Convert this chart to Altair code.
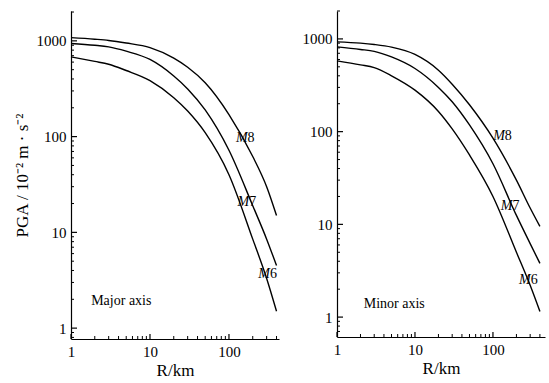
import altair as alt
import pandas as pd

# ---- data ----
R = [1, 2, 3, 5, 10, 20, 30, 50, 100, 200, 300, 400]
magnitudes = ["8", "7", "6"]

major_M8 = [1080, 1040, 1010, 950, 850, 660, 530, 365, 170, 62, 30, 15]
major_M7 = [940, 900, 865, 780, 640, 430, 315, 190, 72, 19, 8.5, 4.5]
major_M6 = [680, 610, 570, 490, 385, 255, 185, 110, 40, 8.5, 3.3, 1.5]

minor_M8 = [930, 900, 870, 815, 680, 460, 325, 195, 85, 30, 15, 9.5]
minor_M7 = [820, 770, 735, 640, 480, 300, 210, 118, 45, 12.5, 6.2, 3.8]
minor_M6 = [580, 525, 490, 400, 280, 165, 107, 56, 20, 5.0, 2.2, 1.15]

major_label_R = [172, 180, 330]
major_label_PGA = [97, 21, 3.7]
minor_label_R = [142, 178, 305]
minor_label_PGA = [89, 15.6, 2.5]

panel_names = ["Major axis", "Minor axis"]
panel_text_R = [1.8, 2.2]
panel_text_PGA = [1.9, 1.4]

x_major_ticks = [1, 10, 100]
x_minor_ticks = [2, 3, 4, 5, 6, 7, 8, 9, 20, 30, 40, 50, 60, 70, 80, 90, 200, 300, 400]
y_major_ticks = [1, 10, 100, 1000]
y_minor_ticks = [0.7, 0.8, 0.9, 2, 3, 4, 5, 6, 7, 8, 9, 20, 30, 40, 50, 60, 70, 80, 90,
                 200, 300, 400, 500, 600, 700, 800, 900, 2000]

FONT = "Liberation Serif"


def panel(series, lab_R, lab_PGA, name, tR, tPGA, xdom, ydom, w, h, ytitle):
    rows = []
    for m, vals in zip(magnitudes, series):
        for r, v in zip(R, vals):
            rows.append({"R": r, "PGA": v, "M": m})
    lines_df = pd.DataFrame(rows)

    xs = alt.Scale(type="log", domain=xdom, nice=False)
    ys = alt.Scale(type="log", domain=ydom, nice=False)
    xaxis = alt.Axis(values=x_major_ticks, ticks=False, grid=False, format="d",
                     title="R/km", labelPadding=5, titlePadding=3, labelFlush=False)
    yargs = dict(values=y_major_ticks, ticks=False, grid=False, format="d",
                 labelPadding=5, titlePadding=5, labelFlush=False)
    if ytitle:
        yargs["title"] = ytitle
    else:
        yargs["title"] = None
    yaxis = alt.Axis(**yargs)

    X = alt.X("R:Q", scale=xs, axis=xaxis)
    Y = alt.Y("PGA:Q", scale=ys, axis=yaxis)

    lines = alt.Chart(lines_df).mark_line(
        color="black", strokeWidth=1.4, interpolate="monotone"
    ).encode(x=X, y=Y, detail="M:N")

    ymin_vals = [v for v in y_minor_ticks if ydom[0] <= v <= ydom[1]]
    ymaj = alt.Chart(pd.DataFrame({"PGA": y_major_ticks})).mark_rule(
        color="black", strokeWidth=1.2).encode(y=Y, x=alt.value(0), x2=alt.value(6))
    ymin = alt.Chart(pd.DataFrame({"PGA": ymin_vals})).mark_rule(
        color="black", strokeWidth=1).encode(y=Y, x=alt.value(0), x2=alt.value(3))
    xmaj = alt.Chart(pd.DataFrame({"R": x_major_ticks})).mark_rule(
        color="black", strokeWidth=1.2).encode(x=X, y=alt.value(h), y2=alt.value(h - 5))
    xmin = alt.Chart(pd.DataFrame({"R": x_minor_ticks})).mark_rule(
        color="black", strokeWidth=1).encode(x=X, y=alt.value(h), y2=alt.value(h - 3))

    lab_df = pd.DataFrame({"R": lab_R, "PGA": lab_PGA, "M": magnitudes})
    mlab = alt.Chart(lab_df).mark_text(
        text="M", font=FONT, fontSize=14, fontStyle="italic", align="right",
        baseline="middle", color="black").encode(x=X, y=Y)
    nlab = alt.Chart(lab_df).mark_text(
        font=FONT, fontSize=14, align="left", baseline="middle", color="black"
    ).encode(x=X, y=Y, text="M:N")

    ptxt = alt.Chart(pd.DataFrame({"R": [tR], "PGA": [tPGA], "t": [name]})).mark_text(
        font=FONT, fontSize=14, align="left", baseline="middle", color="black"
    ).encode(x=X, y=Y, text="t:N")

    return alt.layer(lines, ymaj, ymin, xmaj, xmin, mlab, nlab, ptxt).properties(
        width=w, height=h)


left = panel([major_M8, major_M7, major_M6], major_label_R, major_label_PGA,
             panel_names[0], panel_text_R[0], panel_text_PGA[0],
             [1, 430], [0.77, 2050], 208, 328, "PGA / 10⁻² m · s⁻²")
right = panel([minor_M8, minor_M7, minor_M6], minor_label_R, minor_label_PGA,
              panel_names[1], panel_text_R[1], panel_text_PGA[1],
              [1, 465], [0.61, 2000], 208, 326, None)

chart = alt.hconcat(left, right, spacing=22).properties(
    padding={"left": 13, "top": 10, "right": 2, "bottom": 2}
).configure_view(stroke=None).configure_axis(
    labelFont=FONT, labelFontSize=15, labelColor="black",
    titleFont=FONT, titleFontSize=17, titleFontWeight="normal", titleColor="black",
    domainColor="black", domainWidth=1.2
)

chart.save("out.html", embed_options={"renderer": "svg", "actions": False})
